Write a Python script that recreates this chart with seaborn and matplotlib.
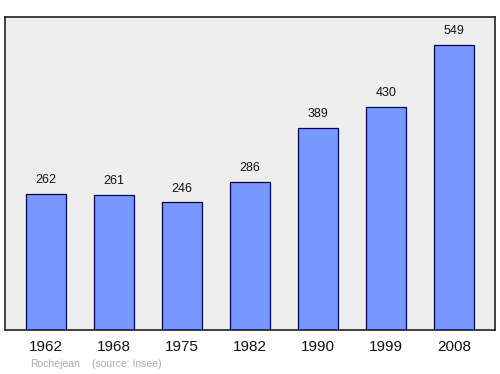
import matplotlib
matplotlib.use("Agg")
import matplotlib.pyplot as plt
import seaborn as sns
import pandas as pd

years = ["1962", "1968", "1975", "1982", "1990", "1999", "2008"]
population = [262, 261, 246, 286, 389, 430, 549]
commune = "Rochejean"
source = "(source: Insee)"

sns.set_theme(style="white")
plt.rcParams['font.family'] = ['Liberation Sans', 'DejaVu Sans']

df = pd.DataFrame({"year": years, "pop": population})

fig = plt.figure(figsize=(5, 3.74), dpi=100)
ax = fig.add_axes([0.01, 0.1176, 0.98, 0.837])
ax.set_facecolor("#eeeeee")
sns.barplot(data=df, x="year", y="pop", ax=ax, color="#7799ff",
            saturation=1, width=0.58, edgecolor="#000066", linewidth=0.9)
ax.set_xlim(-0.6, 6.6)
ax.set_ylim(0, 603)
ax.set_yticks([])
ax.set_xlabel("")
ax.set_ylabel("")
ax.tick_params(axis="x", length=0, labelsize=11, pad=7, colors="#111111")
for s in ax.spines.values():
    s.set_color("#222222")
    s.set_linewidth(1.2)
for i, v in enumerate(population):
    ax.annotate(str(v), (i, v), xytext=(0, 5.5), textcoords="offset points",
                ha="center", va="bottom", fontsize=9, color="#111111")
fig.text(0.06, 0.027, commune, fontsize=7.5, color="#aaaaaa", ha="left", va="center")
fig.text(0.183, 0.027, source, fontsize=7.5, color="#aaaaaa", ha="left", va="center")
fig.savefig("out.png", dpi=100)
